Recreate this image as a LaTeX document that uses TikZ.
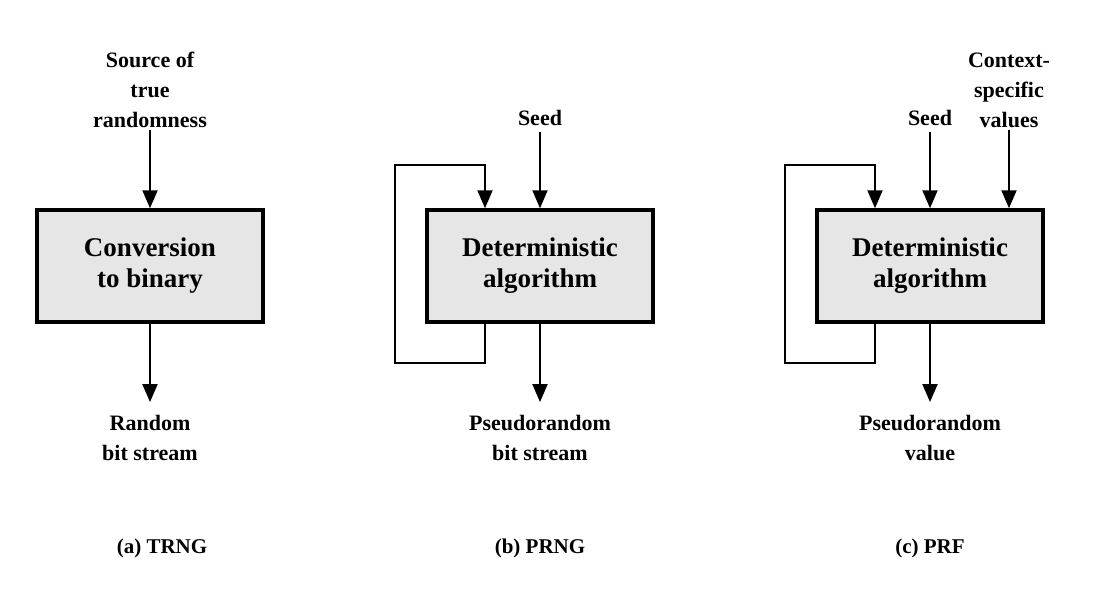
\documentclass[tikz,border=0pt]{standalone}
\usepackage{fontspec}
\setmainfont{Liberation Serif}
\usetikzlibrary{arrows.meta}
\tikzset{
  procbox/.style={draw, line width=3.5pt, fill=boxgray, minimum width=226pt, minimum height=112pt, align=center, font=\fontsize{27}{31}\selectfont\bfseries, inner sep=0pt},
  lbl/.style={align=center, font=\fontsize{22}{30}\selectfont\bfseries, inner sep=1pt},
  captxt/.style={font=\fontsize{21}{26}\selectfont\bfseries, inner sep=1pt},
  arr/.style={line width=2pt, -{Triangle[length=18pt,width=15pt]}},
}
\definecolor{boxgray}{HTML}{E6E6E6}
\begin{document}
\begin{tikzpicture}[x=1pt,y=-1pt]
\path[use as bounding box] (0,0) rectangle (1104,603);
% (a) TRNG
\node[procbox] (b1) at (150,266) {Conversion\\to binary};
\node[lbl] (src1) at (150,90) {Source of\\true\\randomness};
\node[lbl] (out1) at (150,438) {Random\\bit stream};
\node[captxt] (c1) at (162,548) {(a) TRNG};
\draw[arr, shorten <=1pt] (src1.south) -- (b1.north);
\draw[arr, shorten >=12pt] (b1.south) -- (out1.north);
% (b) PRNG
\node[procbox] (b2) at (540,266) {Deterministic\\algorithm};
\node[lbl] (seed2) at (540,118) {Seed};
\node[lbl] (out2) at (540,438) {Pseudorandom\\bit stream};
\node[captxt] (c2) at (540,548) {(b) PRNG};
\coordinate (f2) at (485,0);
\coordinate (l2) at (395,0);
\draw[arr, shorten <=5pt] (seed2.south) -- (b2.north);
\draw[arr, shorten >=12pt] (b2.south) -- (out2.north);
\draw[arr] (b2.south -| f2) -- ([yshift=-39pt]b2.south -| f2) -- ([yshift=-39pt]b2.south -| l2) -- ([yshift=43pt]b2.north -| l2) -- ([yshift=43pt]b2.north -| f2) -- (b2.north -| f2);
% (c) PRF
\node[procbox] (b3) at (930,266) {Deterministic\\algorithm};
\node[lbl] (seed3) at (930,118) {Seed};
\node[lbl] (ctx3) at (1009,90) {Context-\\specific\\values};
\node[lbl] (out3) at (930,438) {Pseudorandom\\value};
\node[captxt] (c3) at (930,548) {(c) PRF};
\coordinate (f3) at (875,0);
\coordinate (l3) at (785,0);
\coordinate (x3) at (1009,0);
\draw[arr, shorten <=5pt] (seed3.south) -- (b3.north);
\draw[arr, shorten <=1pt] (ctx3.south) -- (b3.north -| x3);
\draw[arr, shorten >=12pt] (b3.south) -- (out3.north);
\draw[arr] (b3.south -| f3) -- ([yshift=-39pt]b3.south -| f3) -- ([yshift=-39pt]b3.south -| l3) -- ([yshift=43pt]b3.north -| l3) -- ([yshift=43pt]b3.north -| f3) -- (b3.north -| f3);
\end{tikzpicture}
\end{document}
